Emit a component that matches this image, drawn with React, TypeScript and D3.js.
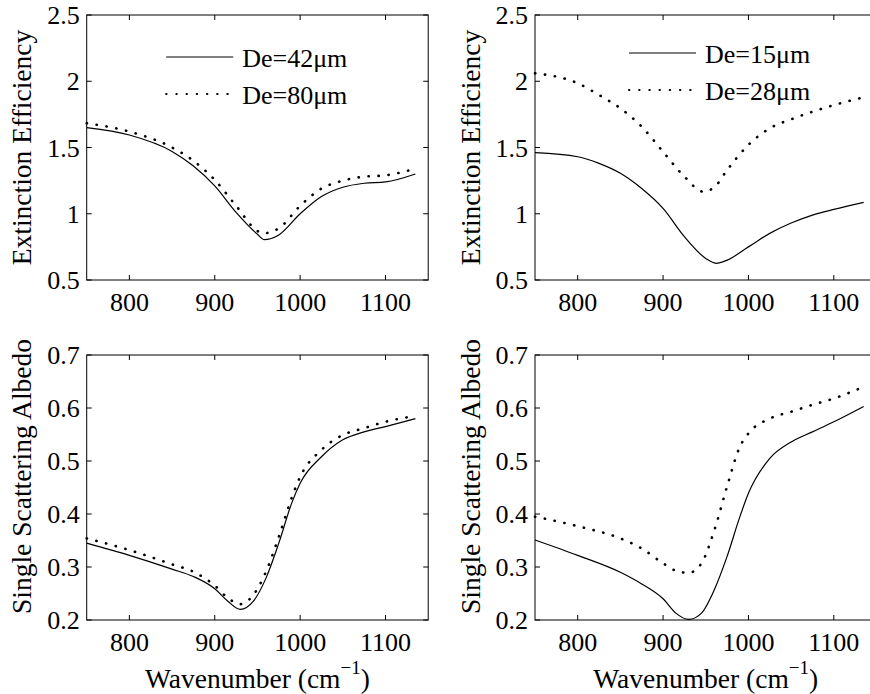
import React from "react";
import * as d3 from "d3";

// ---- data ----
const extX42 = [750, 800, 850, 875, 900, 925, 950, 958, 975, 1000, 1025, 1050, 1075, 1100, 1135];
const ext42 = [1.65, 1.594, 1.47, 1.36, 1.21, 1.01, 0.845, 0.805, 0.84, 1.0, 1.13, 1.2, 1.23, 1.24, 1.3];
const extX80 = [750, 800, 850, 875, 900, 925, 950, 956, 975, 1000, 1025, 1050, 1075, 1100, 1135];
const ext80 = [1.683, 1.62, 1.5, 1.4, 1.255, 1.06, 0.87, 0.852, 0.89, 1.06, 1.19, 1.25, 1.28, 1.29, 1.34];

const extX15 = [750, 800, 825, 850, 875, 900, 925, 950, 962, 975, 1000, 1025, 1050, 1075, 1100, 1135];
const ext15 = [1.461, 1.43, 1.38, 1.305, 1.19, 1.04, 0.827, 0.663, 0.626, 0.65, 0.75, 0.852, 0.93, 0.99, 1.033, 1.086];
const extX28 = [750, 800, 825, 850, 875, 900, 925, 947, 960, 975, 1000, 1025, 1050, 1075, 1100, 1135];
const ext28 = [2.06, 1.985, 1.896, 1.796, 1.657, 1.468, 1.28, 1.167, 1.2, 1.33, 1.52, 1.645, 1.713, 1.77, 1.82, 1.879];

const ssaX = [750, 800, 850, 875, 900, 915, 930, 945, 960, 975, 990, 1000, 1025, 1050, 1075, 1100, 1135];
const ssa42 = [0.345, 0.322, 0.296, 0.282, 0.259, 0.236, 0.22, 0.235, 0.279, 0.345, 0.42, 0.458, 0.508, 0.54, 0.555, 0.565, 0.58];
const ssa80 = [0.354, 0.332, 0.305, 0.291, 0.265, 0.242, 0.23, 0.247, 0.291, 0.357, 0.43, 0.47, 0.521, 0.549, 0.562, 0.574, 0.585];
const ssa15 = [0.351, 0.322, 0.29, 0.268, 0.24, 0.213, 0.201, 0.213, 0.257, 0.32, 0.395, 0.439, 0.505, 0.536, 0.555, 0.574, 0.603];
const ssa28 = [0.395, 0.377, 0.354, 0.335, 0.307, 0.293, 0.289, 0.307, 0.369, 0.452, 0.527, 0.552, 0.58, 0.593, 0.606, 0.618, 0.64];

const xTicks = [800, 900, 1000, 1100];
const extTicks = [0.5, 1, 1.5, 2, 2.5];
const ssaTicks = [0.2, 0.3, 0.4, 0.5, 0.6, 0.7];

const legendLeft = ["De=42\u03bcm", "De=80\u03bcm"];
const legendRight = ["De=15\u03bcm", "De=28\u03bcm"];

const FONT = "Liberation Serif, Times New Roman, DejaVu Serif, serif";
const FS = 26;
const LFS = 27.5;
const txt = { fontFamily: FONT, fontSize: FS } as React.CSSProperties;
const ltxt = { fontFamily: FONT, fontSize: LFS } as React.CSSProperties;

type Series = { xs: number[]; ys: number[]; dotted: boolean };

function Panel(props: {
  left: number;
  top: number;
  width: number;
  height: number;
  yDomain: [number, number];
  yTicks: number[];
  yLabel: string;
  series: Series[];
  legend?: { labels: string[]; x: number; y: number };
  xLabel?: boolean;
  yLabelCenter?: number;
}) {
  const { left, top, width, height, yDomain, yTicks, yLabel, series, legend, xLabel } = props;
  const x = d3.scaleLinear().domain([750, 1150]).range([0, width]);
  const y = d3.scaleLinear().domain(yDomain).range([height, 0]);
  const line = d3
    .line<[number, number]>()
    .x((d) => x(d[0]))
    .y((d) => y(d[1]))
    .curve(d3.curveMonotoneX);
  const tl = 5;
  const yc = props.yLabelCenter ?? height / 2;
  const dotW = 2.6;
  const dotDash = "0.3 9.7";
  return (
    <g transform={`translate(${left},${top})`}>
      {series.map((s, i) => (
        <path
          key={i}
          d={line(s.xs.map((v, j) => [v, s.ys[j]] as [number, number])) || ""}
          fill="none"
          stroke="#000"
          strokeWidth={s.dotted ? dotW : 1.2}
          strokeDasharray={s.dotted ? dotDash : undefined}
          strokeLinecap={s.dotted ? "round" : "butt"}
        />
      ))}
      <rect x={0} y={0} width={width} height={height} fill="none" stroke="#000" strokeWidth={1} />
      {xTicks.map((t) => (
        <g key={t}>
          <line x1={x(t)} x2={x(t)} y1={height} y2={height - tl} stroke="#000" />
          <line x1={x(t)} x2={x(t)} y1={0} y2={tl} stroke="#000" />
          <text x={x(t)} y={height + 31} textAnchor="middle" style={txt}>
            {t}
          </text>
        </g>
      ))}
      {yTicks.map((t) => (
        <g key={t}>
          <line x1={0} x2={tl} y1={y(t)} y2={y(t)} stroke="#000" />
          <line x1={width} x2={width - tl} y1={y(t)} y2={y(t)} stroke="#000" />
          <text x={-7} y={y(t)} dy="0.35em" textAnchor="end" style={txt}>
            {t}
          </text>
        </g>
      ))}
      <text
        transform={`translate(-55.5,${yc}) rotate(-90)`}
        textAnchor="middle"
        style={ltxt}
      >
        {yLabel}
      </text>
      {xLabel && (
        <text x={width / 2} y={height + 68} textAnchor="middle" style={ltxt}>
          Wavenumber (cm
          <tspan style={{ fontSize: 19 }} dy={-14}>
            {"\u22121"}
          </tspan>
          <tspan dy={14}>)</tspan>
        </text>
      )}
      {legend &&
        legend.labels.map((lab, i) => (
          <g key={lab}>
            <line
              x1={legend.x}
              x2={legend.x + 67}
              y1={legend.y + i * 37}
              y2={legend.y + i * 37}
              stroke="#000"
              strokeWidth={i === 0 ? 1.2 : 2.2}
              strokeDasharray={i === 0 ? undefined : "0.3 9.9"}
              strokeLinecap={i === 0 ? "butt" : "round"}
            />
            <text x={legend.x + 76} y={legend.y + i * 37 + 10} style={txt}>
              {lab}
            </text>
          </g>
        ))}
    </g>
  );
}

export default function App() {
  const W = 341.5;
  const H = 265;
  return (
    <svg
      width={870}
      height={694}
      style={{ position: "absolute", left: 0, top: 0, background: "#fff" }}
    >
      <rect width={870} height={694} fill="#fff" />
      <Panel
        left={86.7}
        top={15}
        width={W}
        height={H}
        yDomain={[0.5, 2.5]}
        yTicks={extTicks}
        yLabel="Extinction Efficiency"
        series={[
          { xs: extX42, ys: ext42, dotted: false },
          { xs: extX80, ys: ext80, dotted: true },
        ]}
        legend={{ labels: legendLeft, x: 79.5, y: 42 }}
      />
      <Panel
        left={535}
        top={15}
        width={W}
        height={H}
        yDomain={[0.5, 2.5]}
        yTicks={extTicks}
        yLabel="Extinction Efficiency"
        series={[
          { xs: extX15, ys: ext15, dotted: false },
          { xs: extX28, ys: ext28, dotted: true },
        ]}
        legend={{ labels: legendRight, x: 94, y: 38 }}
      />
      <Panel
        left={86.7}
        top={355}
        width={W}
        height={H}
        yDomain={[0.2, 0.7]}
        yTicks={ssaTicks}
        yLabel="Single Scattering Albedo"
        series={[
          { xs: ssaX, ys: ssa42, dotted: false },
          { xs: ssaX, ys: ssa80, dotted: true },
        ]}
        xLabel
        yLabelCenter={121.5}
      />
      <Panel
        left={535}
        top={355}
        width={W}
        height={H}
        yDomain={[0.2, 0.7]}
        yTicks={ssaTicks}
        yLabel="Single Scattering Albedo"
        series={[
          { xs: ssaX, ys: ssa15, dotted: false },
          { xs: ssaX, ys: ssa28, dotted: true },
        ]}
        xLabel
        yLabelCenter={121.5}
      />
    </svg>
  );
}
